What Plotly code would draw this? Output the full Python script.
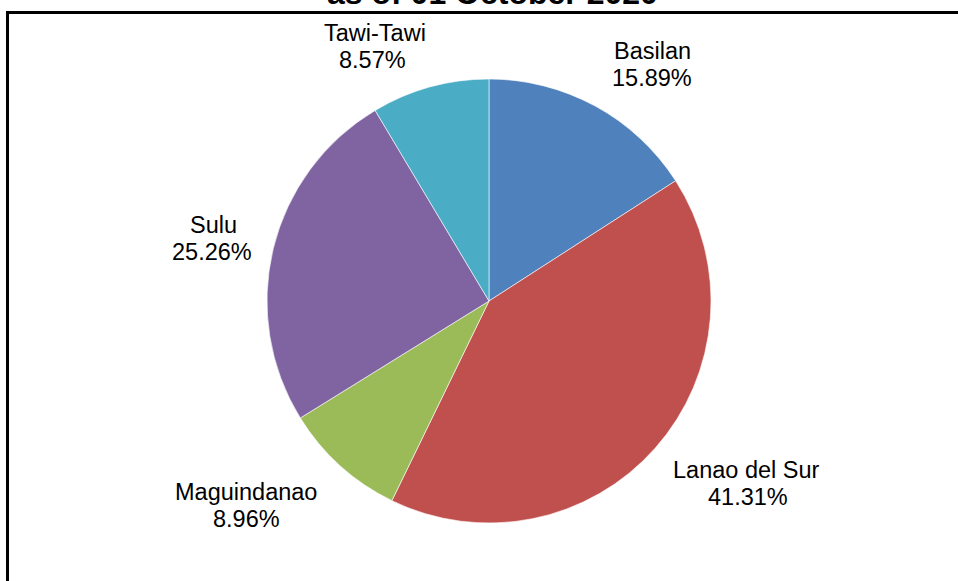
import plotly.graph_objects as go

W, H = 958, 581

provinces = ["Basilan", "Lanao del Sur", "Maguindanao", "Sulu", "Tawi-Tawi"]
shares = [15.89, 41.31, 8.96, 25.26, 8.57]
colors = ["#4F81BD", "#C0504D", "#9BBB59", "#8064A2", "#4BACC6"]
title_text = "as of 01 October 2020"

# label placement (pixel centres: name line, percentage line)
label_pos = {
    "Basilan": ((652, 51), (652, 78)),
    "Lanao del Sur": ((746, 470), (748, 497)),
    "Maguindanao": ((246, 492), (246, 519)),
    "Sulu": ((213, 225), (212, 252)),
    "Tawi-Tawi": ((375, 33), (372, 60)),
}

cx, cy, r = 489, 301, 222


def px(x):
    return x / W


def py(y):
    return 1 - y / H


fig = go.Figure(go.Pie(
    labels=provinces, values=shares, sort=False, direction="clockwise",
    rotation=0, marker=dict(colors=colors, line=dict(color="white", width=0.6)),
    textinfo="none", hoverinfo="label+percent",
    domain=dict(x=[px(cx - r), px(cx + r)], y=[py(cy + r), py(cy - r)]),
    showlegend=False,
))

annotations = []
for name, val in zip(provinces, shares):
    (nx, ny), (vx, vy) = label_pos[name]
    annotations.append(dict(x=px(nx), y=py(ny), xref="paper", yref="paper", text=name,
                            showarrow=False, xanchor="center", yanchor="middle",
                            font=dict(family="Liberation Sans, Arial", size=23.5, color="#000")))
    annotations.append(dict(x=px(vx), y=py(vy), xref="paper", yref="paper", text=f"{val:.2f}%",
                            showarrow=False, xanchor="center", yanchor="middle",
                            font=dict(family="Liberation Sans, Arial", size=23.5, color="#000")))

annotations.append(dict(x=px(492), y=py(-7), xref="paper", yref="paper", text=f"<b>{title_text}</b>",
                        showarrow=False, xanchor="center", yanchor="middle",
                        font=dict(family="Liberation Sans, Arial", size=32, color="#000")))

fig.update_layout(
    width=W, height=H, margin=dict(l=0, r=0, t=0, b=0),
    paper_bgcolor="white", plot_bgcolor="white",
    annotations=annotations,
    shapes=[dict(type="rect", xref="paper", yref="paper",
                 x0=px(7.5), x1=px(985), y0=py(12.5), y1=py(610),
                 line=dict(color="black", width=3), fillcolor="rgba(0,0,0,0)")],
)

fig.write_html(
    "out.html",
    config={"displayModeBar": False},
    post_script="document.body.style.margin='0';document.body.style.overflow='hidden';",
)
